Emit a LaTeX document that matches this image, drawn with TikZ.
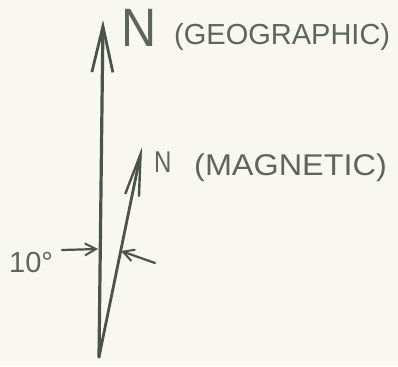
\documentclass[tikz,border=0pt]{standalone}
\usepackage{fontspec}
\setmainfont{Liberation Sans}
\usepackage{xcolor}
\usepackage{tikz}
\usetikzlibrary{arrows.meta,positioning}

\definecolor{pencil}{RGB}{74,84,74}
\definecolor{lettering}{RGB}{92,102,92}
\definecolor{paper}{RGB}{248,247,241}

\begin{document}
\begin{tikzpicture}[
  x=1pt, y=-1pt,
  needle/.style={draw=pencil, line width=3.2pt, line cap=round,
    -{Straight Barb[length=46pt, width=21pt, line width=2.8pt]}},
  magneedle/.style={draw=pencil, line width=2.8pt, line cap=round,
    -{Straight Barb[length=42pt, width=14pt, line width=2.4pt]}},
  pointer/.style={draw=pencil, line width=2.2pt, line cap=round,
    -{Straight Barb[length=11pt, width=12pt, line width=2pt]}},
  lettering/.style={text=lettering, inner sep=0pt, anchor=base west}
]
  \fill[paper] (0,0) rectangle (398,366);
  \useasboundingbox (0,0) rectangle (398,366);

  % the two north directions
  \coordinate (origin) at (99,357);
  \coordinate (geo) at (103,20);
  \coordinate (mag) at (142,147);
  \draw[needle] (origin) -- (geo);
  \draw[magneedle] (origin) -- (mag);

  % labels
  \node[lettering, font=\fontsize{54}{54}\selectfont, xscale=0.9]
    (geoN) at (121,47) {N};
  \node[lettering, font=\fontsize{29}{29}\selectfont]
    (geoText) at (174,45) {(GEOGRAPHIC)};
  \node[lettering, font=\fontsize{30}{30}\selectfont, xscale=0.8]
    (magN) at (154,172) {N};
  \node[lettering, font=\fontsize{30}{30}\selectfont, xscale=1.08]
    (magText) at (194,175) {(MAGNETIC)};

  % angle between them
  \node[lettering, font=\fontsize{29}{29}\selectfont] (deg) at (9,272) {10\textdegree};
  \coordinate (geoHit) at (98,249);
  \coordinate (magHit) at (121,251);
  \coordinate (leftTail) at (62,250);
  \coordinate (rightTail) at (155,263);
  \draw[pointer] (leftTail) -- (geoHit);
  \draw[pointer] (rightTail) -- (magHit);
\end{tikzpicture}
\end{document}
